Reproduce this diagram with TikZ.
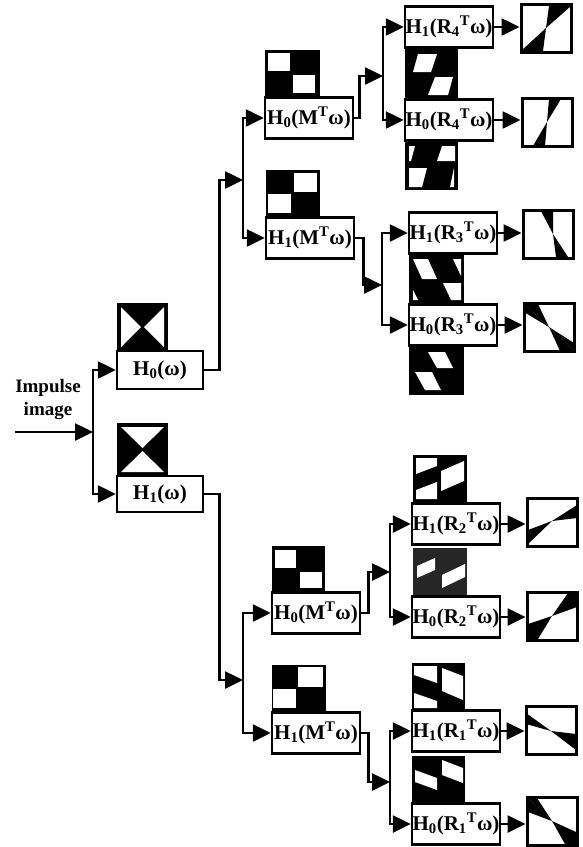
\documentclass[tikz,border=0pt]{standalone}
\usepackage{fontspec}
\setmainfont{Liberation Serif}
\usetikzlibrary{arrows.meta}

\tikzset{
  filt/.style={draw, fill=white, line width=2.5pt, minimum width=88pt, minimum height=41pt,
    inner sep=0pt, font=\fontsize{21}{23}\bfseries\selectfont},
  outbox/.style={draw, line width=3pt, minimum width=50pt, minimum height=48pt, inner sep=0pt},
  link/.style={line width=2.6pt, -{Triangle[length=18pt,width=17pt]}},
}

\begin{document}
\begin{tikzpicture}[x=1pt,y=-1pt]
\useasboundingbox (0,0) rectangle (583,847);

% spectra of the first stage
\fill (117,303) rectangle (168,351);
\fill[white] (121,307) -- (121,347) -- (141,327) -- cycle;
\fill[white] (164,307) -- (164,347) -- (144,327) -- cycle;
\fill (117,423) rectangle (168,476);
\fill[white] (121,427) -- (164,427) -- (142.5,448) -- cycle;
\fill[white] (121,472) -- (164,472) -- (142.5,451) -- cycle;

% checkerboards
\fill (265,50) rectangle (320,97);
\fill[white] (268,53) rectangle (290,71);
\fill[white] (293,75) rectangle (315,93);
\fill (266,170) rectangle (320,217);
\fill[white] (294,173) rectangle (317,192);
\fill[white] (268,194) rectangle (291,213);
\fill (272,546) rectangle (325,593);
\fill[white] (275,550) rectangle (296,568);
\fill[white] (300,572) rectangle (322,588);
\fill (272,665) rectangle (326,712);
\fill[white] (298,667) rectangle (323,687);
\fill[white] (273,689) rectangle (296,708);

% sheared checkerboards, R4
\fill (405,47) rectangle (458,100);
\fill[white] (413,72) -- (418,54) -- (437,54) -- (431,72) -- cycle;
\fill[white] (428,95) -- (435,77) -- (453,77) -- (448,95) -- cycle;
\fill (405,139) rectangle (458,190);
\fill[white] (409,161) -- (409,146) -- (415,146) -- (411,161) -- cycle;
\fill[white] (437,161) -- (442,146) -- (455,146) -- (455,161) -- cycle;
\fill[white] (409,187) -- (409,168) -- (427,168) -- (422,187) -- cycle;
\fill[white] (450,187) -- (454,168) -- (454,187) -- cycle;
% R3
\fill (409,253) rectangle (464,303);
\fill[white] (413,259) -- (428,259) -- (437,279) -- (422,279) -- cycle;
\fill[white] (453,259) -- (461,259) -- (461,276) -- cycle;
\fill[white] (443,283) -- (461,283) -- (461,300) -- (451,300) -- cycle;
\fill[white] (413,290) -- (413,300) -- (418,300) -- cycle;
\fill (409,345) rectangle (464,395);
\fill[white] (428,352) -- (445,352) -- (453,368) -- (437,368) -- cycle;
\fill[white] (415,372) -- (432,372) -- (441,390) -- (425,390) -- cycle;
% R2
\fill (413,455) rectangle (467,502);
\fill[white] (416,458) -- (437,458) -- (437,466) -- (416,474) -- cycle;
\fill[white] (416,490) -- (437,482) -- (437,499) -- (416,499) -- cycle;
\fill[white] (441,471) -- (464,461) -- (464,481) -- (441,491) -- cycle;
\fill[black!85] (413,548) rectangle (467,595);
\fill[white] (417,566) -- (435,558) -- (435,570) -- (417,578) -- cycle;
\fill[white] (442,575) -- (465,564) -- (465,577) -- (442,588) -- cycle;
% R1
\fill (412,663) rectangle (465,710);
\fill[white] (414,666) -- (437,666) -- (437,683) -- (414,675) -- cycle;
\fill[white] (414,693) -- (437,701) -- (437,708) -- (414,708) -- cycle;
\fill[white] (442,668) -- (463,676) -- (463,700) -- (442,691) -- cycle;
\fill (412,756) rectangle (465,803);
\fill[white] (415,770) -- (437,778) -- (437,790) -- (415,782) -- cycle;
\fill[white] (442,760) -- (463,768) -- (463,783) -- (442,775) -- cycle;

% filter boxes
\node[filt, minimum width=86pt, minimum height=38pt] (h0) at (160,370) {H\textsubscript{0}(ω)};
\node[filt, minimum width=86pt, minimum height=36pt] (h1) at (160,494) {H\textsubscript{1}(ω)};
\node[filt] (h0m) at (309,118) {H\textsubscript{0}(M\textsuperscript{T}ω)};
\node[filt] (h1m) at (310,238) {H\textsubscript{1}(M\textsuperscript{T}ω)};
\node[filt] (h0mb) at (316,613) {H\textsubscript{0}(M\textsuperscript{T}ω)};
\node[filt] (h1mb) at (316,733) {H\textsubscript{1}(M\textsuperscript{T}ω)};
\node[filt] (h1r4) at (449,27) {H\textsubscript{1}(R\textsubscript{4}\textsuperscript{T}ω)};
\node[filt] (h0r4) at (449,120) {H\textsubscript{0}(R\textsubscript{4}\textsuperscript{T}ω)};
\node[filt] (h1r3) at (453,233) {H\textsubscript{1}(R\textsubscript{3}\textsuperscript{T}ω)};
\node[filt] (h0r3) at (453,325) {H\textsubscript{0}(R\textsubscript{3}\textsuperscript{T}ω)};
\node[filt] (h1r2) at (456,524) {H\textsubscript{1}(R\textsubscript{2}\textsuperscript{T}ω)};
\node[filt] (h0r2) at (456,617) {H\textsubscript{0}(R\textsubscript{2}\textsuperscript{T}ω)};
\node[filt] (h1r1) at (456,731) {H\textsubscript{1}(R\textsubscript{1}\textsuperscript{T}ω)};
\node[filt] (h0r1) at (456,824) {H\textsubscript{0}(R\textsubscript{1}\textsuperscript{T}ω)};

% output spectra
\node[outbox] (o1r4) at (546,28) {};
\fill (546,28) -- (549,6) -- (571,6) -- cycle;
\fill (546,28) -- (521,51) -- (543,51) -- cycle;
\node[outbox] (o0r4) at (547,122) {};
\fill (547,122) -- (549,99) -- (561,99) -- cycle;
\fill (547,122) -- (533,146) -- (545,146) -- cycle;
\node[outbox] (o1r3) at (548,234) {};
\fill (553,234) -- (541,211) -- (553,211) -- cycle;
\fill (553,234) -- (556,257) -- (568,257) -- cycle;
\node[outbox] (o0r3) at (549,327) {};
\fill (549,327) -- (524,304) -- (538,304) -- cycle;
\fill (549,327) -- (524,304) -- (524,312) -- cycle;
\fill (549,327) -- (560,351) -- (574,351) -- cycle;
\fill (549,327) -- (574,343) -- (574,351) -- cycle;
\node[outbox] (o1r2) at (552,522) {};
\fill (552,521) -- (528,530) -- (528,544) -- cycle;
\fill (552,521) -- (577,505) -- (577,518) -- cycle;
\node[outbox] (o0r2) at (552,616) {};
\fill (552,616) -- (528,624) -- (528,639) -- (538,639) -- cycle;
\fill (552,616) -- (568,593) -- (577,593) -- (577,607) -- cycle;
\node[outbox] (o1r1) at (551,730) {};
\fill (551,731) -- (526,713) -- (526,724) -- cycle;
\fill (551,731) -- (576,734) -- (576,750) -- cycle;
\node[outbox] (o0r1) at (552,821) {};
\fill (552,821) -- (528,798) -- (537,798) -- cycle;
\fill (552,821) -- (528,798) -- (528,812) -- cycle;
\fill (552,821) -- (576,832) -- (576,844) -- (565,844) -- cycle;

% input
\node[font=\fontsize{19}{23}\bfseries\selectfont, align=center] (inp) at (48,399) {Impulse\\image};
\coordinate (src) at (15,432);
\coordinate (sp0) at (93,432);
\coordinate (sp1) at (243,180);
\coordinate (sp2) at (383,76);
\coordinate (sp3) at (382,285);
\coordinate (sp4) at (243,680);
\coordinate (sp5) at (390,572);
\coordinate (sp6) at (390,782);

\draw[link] (src) -- (sp0);
\draw[link] (sp0) |- (h0.west);
\draw[link] (sp0) |- (h1.west);

% upper branch
\draw[link] (h0.east) -- ++(15,0) |- (sp1);
\draw[link] (sp1) |- (h0m.west);
\draw[link] (sp1) |- (h1m.west);
\draw[link] (h0m.east) -- ++(5,0) |- (sp2);
\draw[link] (sp2) |- (h1r4.west);
\draw[link] (sp2) |- (h0r4.west);
\draw[link] (h1m.east) -- ++(8,0) |- (sp3);
\draw[link] (sp3) |- (h1r3.west);
\draw[link] (sp3) |- (h0r3.west);

% lower branch
\draw[link] (h1.east) -- ++(15,0) |- (sp4);
\draw[link] (sp4) |- (h0mb.west);
\draw[link] (sp4) |- (h1mb.west);
\draw[link] (h0mb.east) -- ++(7,0) |- (sp5);
\draw[link] (sp5) |- (h1r2.west);
\draw[link] (sp5) |- (h0r2.west);
\draw[link] (h1mb.east) -- ++(7,0) |- (sp6);
\draw[link] (sp6) |- (h1r1.west);
\draw[link] (sp6) |- (h0r1.west);

% to the outputs
\draw[link] (h1r4.east) -- (h1r4.east -| o1r4.west);
\draw[link] (h0r4.east) -- (h0r4.east -| o0r4.west);
\draw[link] (h1r3.east) -- (h1r3.east -| o1r3.west);
\draw[link] (h0r3.east) -- (h0r3.east -| o0r3.west);
\draw[link] (h1r2.east) -- (h1r2.east -| o1r2.west);
\draw[link] (h0r2.east) -- (h0r2.east -| o0r2.west);
\draw[link] (h1r1.east) -- (h1r1.east -| o1r1.west);
\draw[link] (h0r1.east) -- (h0r1.east -| o0r1.west);
\end{tikzpicture}
\end{document}
